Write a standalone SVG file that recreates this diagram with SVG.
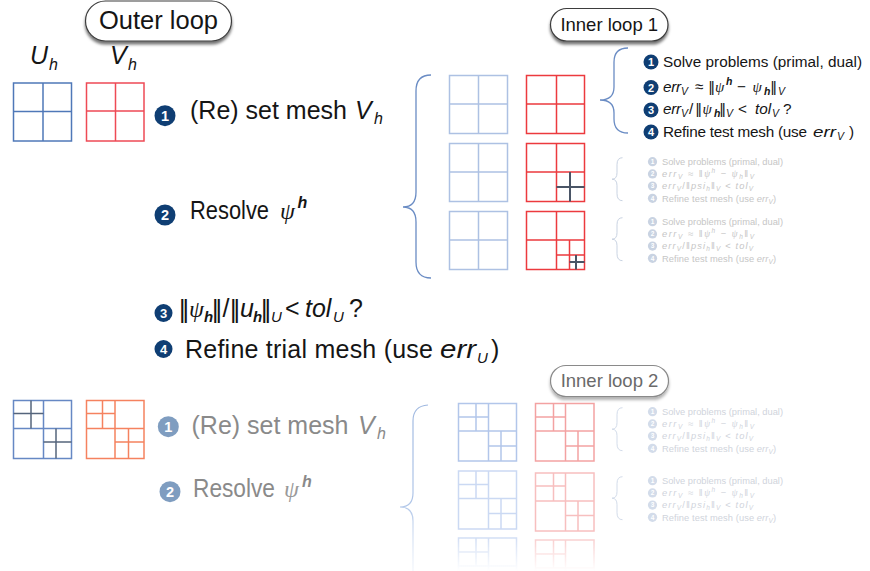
<svg xmlns="http://www.w3.org/2000/svg" width="870" height="571" viewBox="0 0 870 571">
<defs>
  <filter id="shadow" x="-20%" y="-30%" width="140%" height="180%">
    <feDropShadow dx="0" dy="3" stdDeviation="1.6" flood-color="#000" flood-opacity="0.55"/>
  </filter>
  <filter id="shadowLight" x="-20%" y="-30%" width="140%" height="180%">
    <feDropShadow dx="0" dy="3" stdDeviation="1.6" flood-color="#000" flood-opacity="0.3"/>
  </filter>
  <linearGradient id="braceFade" gradientUnits="userSpaceOnUse" x1="0" y1="405" x2="0" y2="571">
    <stop offset="0" stop-color="#9fb8e0" stop-opacity="1"/>
    <stop offset="0.6" stop-color="#a8c0e6" stop-opacity="0.9"/>
    <stop offset="1" stop-color="#c0d2ee" stop-opacity="0.2"/>
  </linearGradient>
  <linearGradient id="maskGrad" x1="0" y1="0" x2="0" y2="1">
    <stop offset="0" stop-color="#fff" stop-opacity="0.7"/>
    <stop offset="1" stop-color="#fff" stop-opacity="0"/>
  </linearGradient>
  <mask id="row3mask" maskUnits="userSpaceOnUse" x="440" y="530" width="180" height="45">
    <rect x="440" y="534" width="180" height="37" fill="url(#maskGrad)"/>
  </mask>
  <!-- faded inner-loop list, origin = first bullet centre -->
  <g id="flist">
    <path d="M-30,-4 Q-35.5,-4 -35.5,3 L-35.5,11 Q-35.5,17.5 -40.5,17.5 Q-35.5,17.5 -35.5,24 L-35.5,32 Q-35.5,39 -30,39" fill="none" stroke="currentColor" stroke-width="1"/>
    <g fill="currentColor">
      <circle cx="0" cy="0" r="4.6"/>
      <circle cx="0" cy="12.2" r="4.6"/>
      <circle cx="0" cy="24.4" r="4.6"/>
      <circle cx="0" cy="36.6" r="4.6"/>
    </g>
    <g font-size="6.5" fill="#fff" text-anchor="middle" font-weight="bold">
      <text x="0" y="2.3">1</text>
      <text x="0" y="14.5">2</text>
      <text x="0" y="26.7">3</text>
      <text x="0" y="38.9">4</text>
    </g>
    <g font-size="9.3">
      <text x="9.5" y="3.3" textLength="121">Solve problems (primal, dual)</text>
      <text x="9.5" y="15.5" textLength="92"><tspan font-style="italic">err</tspan><tspan font-size="6.5" font-style="italic" dy="2">V</tspan><tspan dy="-2"> ≈ ‖</tspan><tspan class="psi">ψ</tspan><tspan font-size="6.5" font-style="italic" dy="-4">h</tspan><tspan dy="4"> − </tspan><tspan class="psi">ψ</tspan><tspan font-size="6.5" font-style="italic" dy="2">h</tspan><tspan dy="-2">‖</tspan><tspan font-size="6.5" font-style="italic" dy="2">V</tspan></text>
      <text x="9.5" y="27.7" textLength="91"><tspan font-style="italic">err</tspan><tspan font-size="6.5" font-style="italic" dy="2">V</tspan><tspan dy="-2">/‖</tspan><tspan font-style="italic">psi</tspan><tspan font-size="6.5" font-style="italic" dy="2">h</tspan><tspan dy="-2">‖</tspan><tspan font-size="6.5" font-style="italic" dy="2">V</tspan><tspan dy="-2"> &lt; </tspan><tspan font-style="italic">tol</tspan><tspan font-size="6.5" font-style="italic" dy="2">V</tspan></text>
      <text x="9.5" y="39.9" textLength="114">Refine test mesh (use <tspan font-style="italic">err</tspan><tspan font-size="6.5" font-style="italic" dy="2">V</tspan><tspan dy="-2">)</tspan></text>
    </g>
  </g>
</defs>
<style>
  text { font-family: "Liberation Sans", "DejaVu Sans", sans-serif; }
  .i { font-style: italic; }
  .psi { font-family: "Liberation Serif", "DejaVu Serif", serif; font-style: italic; }
  .num { font-weight: bold; fill: #fff; text-anchor: middle; }
  .pill { fill: #fff; stroke: #3c3c3c; stroke-width: 1.2; }
  .mesh { fill: none; stroke-width: 1.5; }
  .dark { stroke: #4a5566; stroke-width: 2; fill: none; }
  .main { font-size: 25px; fill: #151515; }
  .list { font-size: 15.3px; fill: #151515; }
  .bul { fill: #0f3e73; }
  .fbul { fill: #7f9dc0; }
  .faded { font-size: 25px; fill: #8a8a8a; }
  .nrm { letter-spacing: -3px; }
  .nrs { letter-spacing: -1.8px; }
</style>

<rect width="870" height="571" fill="#fff"/>

<!-- Outer loop pill -->
<g id="outer-loop">
  <rect class="pill" x="85.5" y="1" width="146" height="40" rx="20" filter="url(#shadow)"/>
  <text x="158.5" y="28.5" font-size="25.5" text-anchor="middle" fill="#151515">Outer loop</text>
</g>

<!-- Uh / Vh labels and meshes -->
<g id="labels">
  <text class="i" x="30" y="64" font-size="25" fill="#151515">U</text>
  <text class="i" x="49" y="69.5" font-size="16" fill="#151515">h</text>
  <text class="i" x="110" y="64" font-size="25" fill="#151515">V</text>
  <text class="i" x="128" y="69.5" font-size="16" fill="#151515">h</text>
</g>
<g id="Uh-mesh" class="mesh" stroke="#4f78b8">
  <rect x="13.5" y="83" width="58" height="58"/>
  <path d="M43,83V141M13.5,111.5H71.5"/>
</g>
<g id="Vh-mesh" class="mesh" stroke="#ee4a55">
  <rect x="86.5" y="83" width="57.5" height="58"/>
  <path d="M115.5,83V141M86.5,111H144"/>
</g>

<!-- Outer loop steps -->
<g id="step1">
  <circle class="bul" cx="165" cy="115.7" r="10.5"/>
  <text class="num" x="165" y="120.8" font-size="14.5">1</text>
  <text class="main" x="190" y="118.5">(Re) set mesh</text>
  <text class="main i" x="355" y="118.5">V</text>
  <text class="i" x="374" y="124" font-size="16" fill="#151515">h</text>
</g>
<g id="step2">
  <circle class="bul" cx="165" cy="215" r="10.5"/>
  <text class="num" x="165" y="220.1" font-size="14.5">2</text>
  <text class="main" x="190" y="218.5" textLength="79" lengthAdjust="spacingAndGlyphs">Resolve</text>
  <text class="psi" x="280" y="218.5" font-size="24" fill="#151515">ψ</text>
  <text class="i" x="297.5" y="208" font-size="16" fill="#151515" font-weight="bold">h</text>
</g>
<g id="step3" class="main">
  <circle class="bul" cx="163.5" cy="313" r="9"/>
  <text class="num" x="163.5" y="317.6" font-size="13">3</text>
  <text class="nrm" x="179" y="318">||</text>
  <text class="psi" x="189" y="317" font-size="24">ψ</text>
  <text class="i" x="204" y="322" font-size="15" font-weight="bold">h</text>
  <text class="nrm" x="212" y="318">||</text>
  <text x="222.5" y="317">/</text>
  <text class="nrm" x="230" y="318">||</text>
  <text class="i" x="240" y="317">u</text>
  <text class="i" x="253" y="322" font-size="15" font-weight="bold">h</text>
  <text class="nrm" x="261" y="318">||</text>
  <text class="i" x="271" y="322" font-size="15">U</text>
  <text x="285" y="317">&lt;</text>
  <text class="i" x="305" y="317">tol</text>
  <text class="i" x="333" y="322" font-size="15">U</text>
  <text x="349" y="317">?</text>
</g>
<g id="step4" class="main">
  <circle class="bul" cx="163.5" cy="349" r="9"/>
  <text class="num" x="163.5" y="353.6" font-size="13">4</text>
  <text x="185" y="358" textLength="248">Refine trial mesh (use</text>
  <text class="i" x="440" y="358" textLength="36" lengthAdjust="spacingAndGlyphs">err</text>
  <text class="i" x="477" y="363" font-size="15">U</text>
  <text x="491" y="358">)</text>
</g>

<!-- Inner loop 1 -->
<g id="inner-loop-1">
  <rect class="pill" x="550.5" y="8.5" width="117.5" height="32.5" rx="16.25" filter="url(#shadow)"/>
  <text x="609.25" y="31" font-size="18.5" text-anchor="middle" fill="#151515">Inner loop 1</text>
</g>

<g id="inner1-meshes">
  <g class="mesh" stroke="#adc1e3">
    <rect x="449.5" y="75.5" width="58" height="58"/>
    <path d="M478.5,75.5V133.5M449.5,104H507.5"/>
    <rect x="449.5" y="143.5" width="58" height="58"/>
    <path d="M478.5,143.5V201.5M449.5,172H507.5"/>
    <rect x="449.5" y="211.5" width="58" height="58"/>
    <path d="M478.5,211.5V269.5M449.5,240H507.5"/>
  </g>
  <g class="mesh" stroke="#ec3a3e">
    <rect x="526.5" y="75.5" width="58" height="58"/>
    <path d="M556.5,75.5V133.5M526.5,104H584.5"/>
    <rect x="526.5" y="143.5" width="58" height="58"/>
    <path d="M556.5,143.5V201.5M526.5,172H584.5"/>
    <rect x="526.5" y="211.5" width="58" height="58"/>
    <path d="M556.5,211.5V269.5M526.5,240H584.5M569.5,240V269.5M556.5,255H584.5"/>
  </g>
  <path class="dark" d="M570,172V201.5M556.5,187H584.5"/>
  <path class="dark" d="M576,255V269.5M569.5,262H584.5"/>
</g>

<g id="inner1-list" class="list">
  <g class="bul">
    <circle cx="651" cy="62" r="7.5"/>
    <circle cx="651" cy="87.5" r="7.5"/>
    <circle cx="651" cy="110" r="7.5"/>
    <circle cx="651" cy="132" r="7.5"/>
  </g>
  <text class="num" x="651" y="66" font-size="11">1</text>
  <text class="num" x="651" y="91.5" font-size="11">2</text>
  <text class="num" x="651" y="114" font-size="11">3</text>
  <text class="num" x="651" y="136" font-size="11">4</text>
  <text x="663" y="66.5" textLength="199">Solve problems (primal, dual)</text>
  <text class="i" x="663" y="91.5" textLength="18">err</text>
  <text class="i" x="681" y="95" font-size="10.5">V</text>
  <text x="695" y="91.5">≈</text>
  <text class="nrs" x="708.5" y="92">||</text>
  <text class="psi" x="715" y="91.5" font-size="15">ψ</text>
  <text class="i" x="726" y="85" font-size="10.5" font-weight="bold">h</text>
  <text x="737" y="91.5">−</text>
  <text class="psi" x="752.5" y="91.5" font-size="15">ψ</text>
  <text class="i" x="764" y="95" font-size="10.5" font-weight="bold">h</text>
  <text class="nrs" x="770.5" y="92">||</text>
  <text class="i" x="778" y="95" font-size="10.5">V</text>
  <text class="i" x="663" y="113.5" textLength="18">err</text>
  <text class="i" x="681" y="117" font-size="10.5">V</text>
  <text x="689" y="113.5">/</text>
  <text class="nrs" x="695.5" y="114">||</text>
  <text class="psi" x="702.5" y="113.5" font-size="15">ψ</text>
  <text class="i" x="714" y="117" font-size="10.5" font-weight="bold">h</text>
  <text class="nrs" x="719.5" y="114">||</text>
  <text class="i" x="726" y="117" font-size="10.5">V</text>
  <text x="738" y="113.5">&lt;</text>
  <text class="i" x="755" y="113.5">tol</text>
  <text class="i" x="772" y="117" font-size="10.5">V</text>
  <text x="783" y="113.5">?</text>
  <text x="663" y="136.5" textLength="144">Refine test mesh (use</text>
  <text class="i" x="813" y="136.5" textLength="23" lengthAdjust="spacingAndGlyphs">err</text>
  <text class="i" x="837" y="140" font-size="10.5">V</text>
  <text x="849" y="136.5">)</text>
</g>

<!-- faded inner lists (loop 1) -->
<g id="faded-list-1a"><use href="#flist" x="652.5" y="161.7" fill="#c6c6c6" color="#c9d3e2"/></g>
<g id="faded-list-1b"><use href="#flist" x="652.5" y="221.7" fill="#c6c6c6" color="#c9d3e2"/></g>

<!-- Lower (faded) outer loop iteration -->
<g id="mesh2-U" class="mesh">
  <rect x="13.5" y="400.5" width="58" height="58" stroke="#6688c4"/>
  <path d="M43.5,400.5V458.5M13.5,428.5H71.5" stroke="#6688c4"/>
  <path d="M31,400.5V428.5M13.5,413.5H43.5M56,428.5V458.5M43.5,442H71.5" stroke="#55657c"/>
</g>
<g id="mesh2-V" class="mesh" stroke="#f5825f">
  <rect x="86.5" y="400.5" width="57.5" height="58"/>
  <path d="M115,400.5V458.5M86.5,428.5H144M102.5,400.5V428.5M86.5,413.5H115M128.5,428.5V458.5M115,442H144"/>
</g>
<g id="step1-faded">
  <circle class="fbul" cx="168.3" cy="426.7" r="10.5"/>
  <text class="num" x="168.3" y="431.8" font-size="14.5">1</text>
  <text class="faded" x="191.5" y="433.5">(Re) set mesh</text>
  <text class="faded i" x="358" y="433.5">V</text>
  <text class="i" x="377" y="439" font-size="16" fill="#8a8a8a">h</text>
</g>
<g id="step2-faded">
  <circle class="fbul" cx="170" cy="491.7" r="10.5"/>
  <text class="num" x="170" y="496.8" font-size="14.5">2</text>
  <text class="faded" x="193" y="497" textLength="82" lengthAdjust="spacingAndGlyphs">Resolve</text>
  <text class="psi" x="284" y="497" font-size="24" fill="#9a9a9a">ψ</text>
  <text class="i" x="302" y="486.5" font-size="16" fill="#8a8a8a" font-weight="bold">h</text>
</g>

<!-- Inner loop 2 -->
<g id="inner-loop-2">
  <rect class="pill" x="550.5" y="365.5" width="118" height="31" rx="15.5" style="stroke:#8a8a8a" filter="url(#shadowLight)"/>
  <text x="609.5" y="387" font-size="18.5" text-anchor="middle" fill="#6a6a6a">Inner loop 2</text>
</g>

<g id="inner2-meshes">
  <g class="mesh" stroke="#b2c6ea">
    <rect x="458.5" y="403.5" width="58" height="57.5"/>
    <path d="M488.5,403.5V461M458.5,431H516.5M476,403.5V431M458.5,417H488.5M501,431V461M488.5,446H516.5"/>
  </g>
  <g class="mesh" stroke="#f3a2a2">
    <rect x="535.5" y="403.5" width="58.5" height="57.5"/>
    <path d="M565.5,403.5V461M535.5,431H594M553.5,403.5V431M535.5,417H565.5M578,431V461M565.5,446H594"/>
  </g>
  <g class="mesh" stroke="#cbd9f3">
    <rect x="458.5" y="471" width="58" height="58"/>
    <path d="M488.5,471V529M458.5,498.5H516.5M476,471V498.5M458.5,484.5H488.5M501,498.5V529M488.5,513.5H516.5"/>
  </g>
  <g class="mesh" stroke="#f7bfbf">
    <rect x="535.5" y="473" width="58.5" height="58"/>
    <path d="M565.5,473V531M535.5,501H594M553.5,473V501M535.5,486H565.5M578,501V531M565.5,515.5H594"/>
  </g>
  <g mask="url(#row3mask)">
    <g class="mesh" stroke="#b8cbee">
      <rect x="458.5" y="538" width="58" height="58"/>
      <path d="M488.5,538V596M458.5,566H516.5M476,538V566M458.5,552H488.5"/>
    </g>
    <g class="mesh" stroke="#f5b0b0">
      <rect x="535.5" y="540" width="58.5" height="58"/>
      <path d="M565.5,540V598M535.5,568H594M553.5,540V568M535.5,554H565.5"/>
    </g>
  </g>
</g>

<g id="faded-list-2a"><use href="#flist" x="652.5" y="411.7" fill="#d0d4dc" color="#d3dcea"/></g>
<g id="faded-list-2b"><use href="#flist" x="652.5" y="480.7" fill="#d0d4dc" color="#d3dcea"/></g>

<!-- Connectors (braces) -->
<g id="connectors" fill="none">
  <path d="M431,75 Q416,75 416,91 L416,192 Q416,207 403,207 Q416,207 416,222 L416,262 Q416,278 431,278" stroke="#6a8cc4" stroke-width="1.3"/>
  <path d="M628,48 Q614,48 614,62 L614,87 Q614,100 600,100 Q614,100 614,113 L614,119 Q614,133 628,133" stroke="#6a8cc4" stroke-width="1.3"/>
  <path d="M428,405 Q413,406 413,421 L413,493 Q413,507 400,507 Q413,507 413,521 L413,571" stroke="url(#braceFade)" stroke-width="1.2"/>
</g>
</svg>
